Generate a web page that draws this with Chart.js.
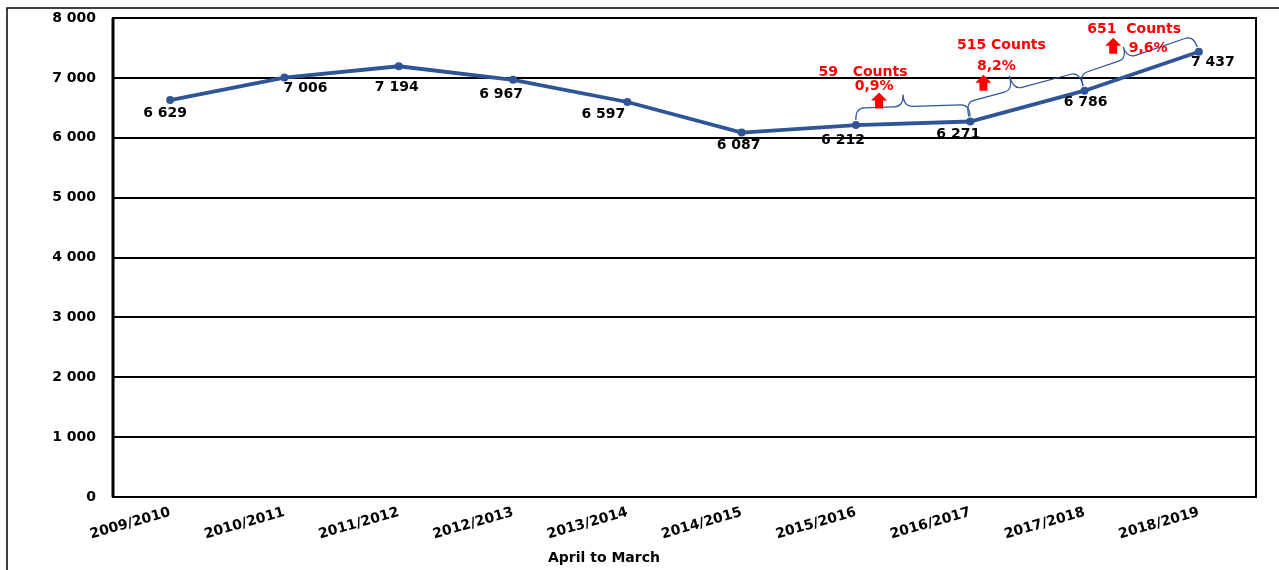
<!DOCTYPE html>
<html>
<head>
<meta charset="utf-8">
<script src="https://cdn.jsdelivr.net/npm/chart.js@4/dist/chart.umd.min.js"></script>
<style>
  html, body { margin: 0; padding: 0; background: #fff; overflow: hidden; }
  #wrap { position: relative; width: 1279px; height: 570px; }
</style>
</head>
<body>
<div id="wrap"><canvas id="c" width="1279" height="570"></canvas></div>
<script>
// Yearly counts, April to March
const categories = ['2009/2010', '2010/2011', '2011/2012', '2012/2013', '2013/2014',
                    '2014/2015', '2015/2016', '2016/2017', '2017/2018', '2018/2019'];
const counts = [6629, 7006, 7194, 6967, 6597, 6087, 6212, 6271, 6786, 7437];
const yTicks = [0, 1000, 2000, 3000, 4000, 5000, 6000, 7000, 8000];
const axisTitle = 'April to March';
const countWord = 'Counts';

// Value label placement relative to each point (pixels)
const labelOffsets = [[-5, 13], [21, 11], [-2, 21], [-12, 15], [-24, 12],
                      [-3, 13], [-13, 15], [-12, 13], [1, 12], [14, 11]];

// Year-on-year growth callouts: brace between two points, arrow and texts placed from the brace tip
const growthSpans = [
  { from: 6, to: 7, tip: 0.42, depth: 24, gap: '   ', arrow: [-24, 6], pct: [-29, -8], cnt: [-40, -22] },
  { from: 7, to: 8, tip: 0.42, depth: 29, gap: ' ',   arrow: [-26, 7], pct: [-13, -9], cnt: [-8, -30] },
  { from: 8, to: 9, tip: 0.42, depth: 24, gap: '  ',  arrow: [-10, -1], pct: [25, 1],  cnt: [11, -18] }
];

const BLUE = '#2F5597';
const RED = '#FF0000';
const FONT = '"DejaVu Sans", Verdana, sans-serif';

function fmtThousands(v) {
  return String(v).replace(/\B(?=(\d{3})+(?!\d))/g, ' ');
}

function drawBrace(ctx, ax, ay, bx, by, t, w, lift) {
  const L = Math.hypot(bx - ax, by - ay);
  const dx = (bx - ax) / L, dy = (by - ay) / L;
  const nx = dy, ny = -dx;
  const P = (s, h) => [ax + dx * s + nx * (h + lift), ay + dy * s + ny * (h + lift)];
  const ts = t * L, c = 9, h = w / 2;
  ctx.beginPath();
  ctx.moveTo(...P(0, 0));
  ctx.quadraticCurveTo(...P(0, h), ...P(c, h));
  ctx.lineTo(...P(ts - c, h));
  ctx.quadraticCurveTo(...P(ts, h), ...P(ts, w));
  ctx.quadraticCurveTo(...P(ts, h), ...P(ts + c, h));
  ctx.lineTo(...P(L - c, h));
  ctx.quadraticCurveTo(...P(L, h), ...P(L, 0));
  ctx.stroke();
  return P(ts, w);
}

function drawUpArrow(ctx, cx, cy) {
  const w = 16, hgt = 16, shaft = 8, head = 8;
  const top = cy - hgt / 2, bot = cy + hgt / 2;
  ctx.beginPath();
  ctx.moveTo(cx, top);
  ctx.lineTo(cx + w / 2, top + head);
  ctx.lineTo(cx + shaft / 2, top + head);
  ctx.lineTo(cx + shaft / 2, bot);
  ctx.lineTo(cx - shaft / 2, bot);
  ctx.lineTo(cx - shaft / 2, top + head);
  ctx.lineTo(cx - w / 2, top + head);
  ctx.closePath();
  ctx.fill();
}

const decorations = {
  id: 'decorations',
  beforeDraw(chart) {
    const ctx = chart.ctx;
    ctx.save();
    ctx.fillStyle = '#fff';
    ctx.fillRect(0, 0, chart.width, chart.height);
    // outer frame (top and left edges)
    ctx.strokeStyle = '#000';
    ctx.lineWidth = 1.5;
    ctx.beginPath();
    ctx.moveTo(7, chart.height);
    ctx.lineTo(7, 8);
    ctx.lineTo(chart.width, 8);
    ctx.stroke();
    ctx.restore();
  },
  beforeDatasetsDraw(chart) {
    const ctx = chart.ctx, a = chart.chartArea;
    ctx.save();
    ctx.strokeStyle = '#000';
    ctx.lineWidth = 2;
    ctx.strokeRect(a.left, a.top, a.right - a.left, a.bottom - a.top);
    ctx.lineWidth = 3;
    ctx.beginPath();
    ctx.moveTo(a.left, a.top);
    ctx.lineTo(a.left, a.bottom);
    ctx.stroke();
    // axis title
    ctx.fillStyle = '#000';
    ctx.font = 'bold 14px ' + FONT;
    ctx.textAlign = 'center';
    ctx.textBaseline = 'middle';
    ctx.fillText(axisTitle, 604, 558);
    ctx.restore();
  },
  afterDatasetsDraw(chart) {
    const ctx = chart.ctx;
    const pts = chart.getDatasetMeta(0).data;
    ctx.save();
    // value labels
    ctx.fillStyle = '#000';
    ctx.font = 'bold 14px ' + FONT;
    ctx.textAlign = 'center';
    ctx.textBaseline = 'middle';
    pts.forEach((p, i) => {
      const [ox, oy] = labelOffsets[i];
      ctx.fillText(fmtThousands(counts[i]), p.x + ox, p.y + oy);
    });
    // growth callouts
    growthSpans.forEach(s => {
      const a = pts[s.from], b = pts[s.to];
      ctx.strokeStyle = BLUE;
      ctx.lineWidth = 1.2;
      const [tx, ty] = drawBrace(ctx, a.x, a.y, b.x, b.y, s.tip, s.depth, 5);
      ctx.fillStyle = RED;
      drawUpArrow(ctx, tx + s.arrow[0], ty + s.arrow[1]);
      const diff = counts[s.to] - counts[s.from];
      const pct = (diff / counts[s.from] * 100).toFixed(1).replace('.', ',') + '%';
      ctx.font = 'bold 14px ' + FONT;
      ctx.fillText(pct, tx + s.pct[0], ty + s.pct[1]);
      ctx.fillText(diff + s.gap + countWord, tx + s.cnt[0], ty + s.cnt[1]);
    });
    ctx.restore();
  }
};

new Chart(document.getElementById('c'), {
  type: 'line',
  data: {
    labels: categories,
    datasets: [{
      data: counts,
      borderColor: BLUE,
      backgroundColor: BLUE,
      borderWidth: 3.8,
      pointRadius: 4,
      pointHoverRadius: 4,
      pointBackgroundColor: BLUE,
      pointBorderWidth: 0,
      tension: 0,
      clip: false
    }]
  },
  options: {
    responsive: false,
    animation: false,
    events: [],
    layout: { padding: { left: 0, top: 18, right: 23, bottom: 0 } },
    plugins: { legend: { display: false }, tooltip: { enabled: false } },
    scales: {
      x: {
        offset: true,
        grid: { display: false, drawTicks: false },
        border: { display: false },
        ticks: {
          color: '#000',
          font: { family: FONT, size: 14, weight: 'bold' },
          minRotation: 16,
          maxRotation: 16,
          padding: 7,
          autoSkip: false
        },
        afterFit(scale) {
          scale.height = 73;
          scale.paddingLeft = 0;
          scale.paddingRight = 0;
        }
      },
      y: {
        min: 0,
        max: 8000,
        afterBuildTicks(scale) { scale.ticks = yTicks.map(v => ({ value: v })); },
        grid: { color: '#000', lineWidth: 2, drawTicks: false },
        border: { display: false },
        ticks: {
          color: '#000',
          font: { family: FONT, size: 14, weight: 'bold' },
          padding: 17,
          callback: v => fmtThousands(v)
        },
        afterFit(scale) {
          scale.width = 113;
          scale.paddingTop = 0;
          scale.paddingBottom = 0;
        }
      }
    }
  },
  plugins: [decorations]
});
</script>
</body>
</html>
